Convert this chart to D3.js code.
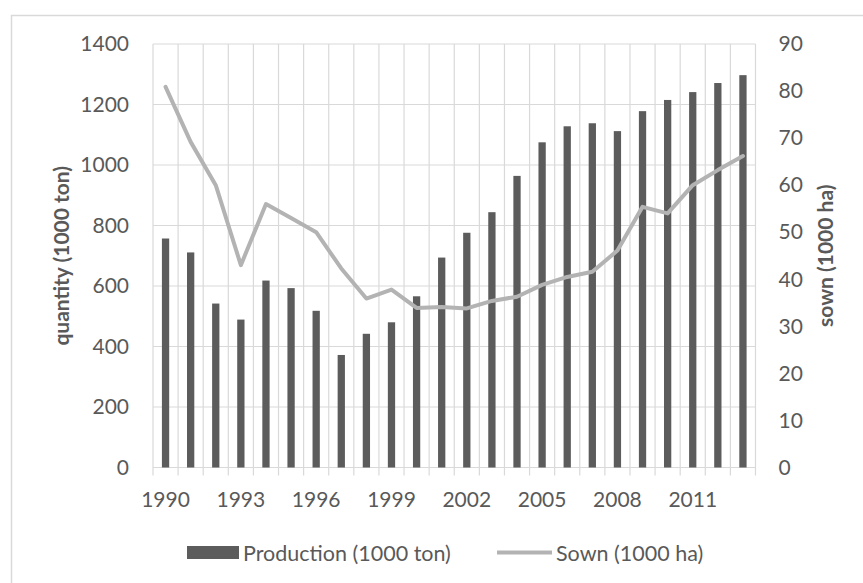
<!DOCTYPE html>
<html>
<head>
<meta charset="utf-8">
<script src="https://cdn.jsdelivr.net/npm/d3@7/dist/d3.min.js"></script>
<style>
  html, body { margin: 0; padding: 0; background: #ffffff; }
  svg { display: block; }
  text { font-family: Lato, "Open Sans", sans-serif; fill: #595959; }
</style>
</head>
<body>
<svg id="chart" width="863" height="583"></svg>
<script>
// Years on the category axis
const years = d3.range(1990, 2014).map(String);
// Production, 1000 ton (bars, left axis)
const production = [757, 711, 542, 489, 618, 593, 518, 372, 442, 480, 566, 694,
                    776, 844, 964, 1075, 1128, 1138, 1112, 1178, 1215, 1241, 1271, 1297];
// Sown area, 1000 ha (line, right axis)
const sown = [80.9, 69.2, 60.0, 43.0, 56.0, 53.0, 50.0, 42.3, 35.9, 37.8, 33.9, 34.1,
              33.8, 35.4, 36.3, 38.8, 40.5, 41.6, 46.1, 55.4, 54.0, 60.0, 63.2, 66.2];
// Axis ticks
const leftTicks = [0, 200, 400, 600, 800, 1000, 1200, 1400];
const rightTicks = [0, 10, 20, 30, 40, 50, 60, 70, 80, 90];
const labelYears = ["1990", "1993", "1996", "1999", "2002", "2005", "2008", "2011"];

const W = 863, H = 583;
const plot = { left: 153, right: 755.5, top: 44, bottom: 467.5 };
const barColor = "#5c5c5c", lineColor = "#b3b3b3", gridColor = "#d9d9d9", textColor = "#595959";
const tickFont = 21, titleFont = 21, legendFont = 21.5;

const svg = d3.select("#chart");

// Chart frame
svg.append("rect")
  .attr("x", 11.5).attr("y", 15.5)
  .attr("width", W + 20).attr("height", H + 20)
  .attr("fill", "#fff").attr("stroke", "#d9d9d9").attr("stroke-width", 1.5);

const x = d3.scaleBand().domain(years).range([plot.left, plot.right]).paddingInner(0.71).paddingOuter(0.355);
const step = x.step();
const yL = d3.scaleLinear().domain([0, 1400]).range([plot.bottom, plot.top]);
const yR = d3.scaleLinear().domain([0, 90]).range([plot.bottom, plot.top]);

// Horizontal gridlines
svg.append("g")
  .selectAll("line").data(leftTicks).join("line")
  .attr("x1", plot.left).attr("x2", plot.right)
  .attr("y1", d => yL(d)).attr("y2", d => yL(d))
  .attr("stroke", gridColor).attr("stroke-width", 1.2);

// Vertical gridlines at category boundaries, extended as tick marks below the axis
const bounds = d3.range(years.length + 1).map(i => plot.left + i * step);
svg.append("g")
  .selectAll("line").data(bounds).join("line")
  .attr("x1", d => d).attr("x2", d => d)
  .attr("y1", plot.top).attr("y2", plot.bottom + 8)
  .attr("stroke", gridColor).attr("stroke-width", 1.2);

// Bars
svg.append("g")
  .selectAll("rect").data(production).join("rect")
  .attr("x", (d, i) => x(years[i]))
  .attr("width", x.bandwidth())
  .attr("y", d => yL(d))
  .attr("height", d => yL(0) - yL(d))
  .attr("fill", barColor);

// Sown area line
const line = d3.line()
  .x((d, i) => x(years[i]) + x.bandwidth() / 2)
  .y(d => yR(d));
svg.append("path")
  .datum(sown)
  .attr("d", line)
  .attr("fill", "none")
  .attr("stroke", lineColor)
  .attr("stroke-width", 4)
  .attr("stroke-linejoin", "round")
  .attr("stroke-linecap", "round");

// Left axis labels
const leftAxis = d3.axisLeft(yL).tickValues(leftTicks).tickFormat(d3.format("d")).tickSize(0).tickPadding(0);
const gL = svg.append("g").attr("transform", `translate(${plot.left - 24},0)`).call(leftAxis);
gL.select(".domain").remove();

// Right axis labels
const rightAxis = d3.axisRight(yR).tickValues(rightTicks).tickFormat(d3.format("d")).tickSize(0).tickPadding(0);
const gR = svg.append("g").attr("transform", `translate(${plot.right + 23},0)`).call(rightAxis);
gR.select(".domain").remove();

// Category axis labels
const bottomAxis = d3.axisBottom(x).tickValues(labelYears).tickSize(0).tickPadding(0);
const gB = svg.append("g").attr("transform", `translate(0,${plot.bottom + 25})`).call(bottomAxis);
gB.select(".domain").remove();

svg.selectAll(".tick text")
  .attr("font-family", "Lato, 'Open Sans', sans-serif")
  .attr("font-size", tickFont)
  .style("fill", textColor);
gB.selectAll(".tick text").attr("dy", "0.71em").attr("y", 0);

// Axis titles
const midY = (plot.top + plot.bottom) / 2;
svg.append("text")
  .attr("transform", `translate(69,${midY}) rotate(-90)`)
  .attr("text-anchor", "middle")
  .attr("font-size", titleFont).attr("font-weight", "bold")
  .text("quantity (1000 ton)");
svg.append("text")
  .attr("transform", `translate(833,${midY}) rotate(-90)`)
  .attr("text-anchor", "middle")
  .attr("font-size", titleFont).attr("font-weight", "bold")
  .text("sown (1000 ha)");

// Legend
const legend = svg.append("g");
legend.append("rect")
  .attr("x", 187).attr("y", 546).attr("width", 52).attr("height", 13)
  .attr("fill", barColor);
legend.append("text")
  .attr("x", 243).attr("y", 553).attr("dy", "0.35em")
  .attr("font-size", legendFont)
  .text("Production (1000 ton)");
legend.append("line")
  .attr("x1", 497).attr("x2", 552).attr("y1", 552.5).attr("y2", 552.5)
  .attr("stroke", lineColor).attr("stroke-width", 4);
legend.append("text")
  .attr("x", 556).attr("y", 553).attr("dy", "0.35em")
  .attr("font-size", legendFont)
  .text("Sown (1000 ha)");
</script>
</body>
</html>
